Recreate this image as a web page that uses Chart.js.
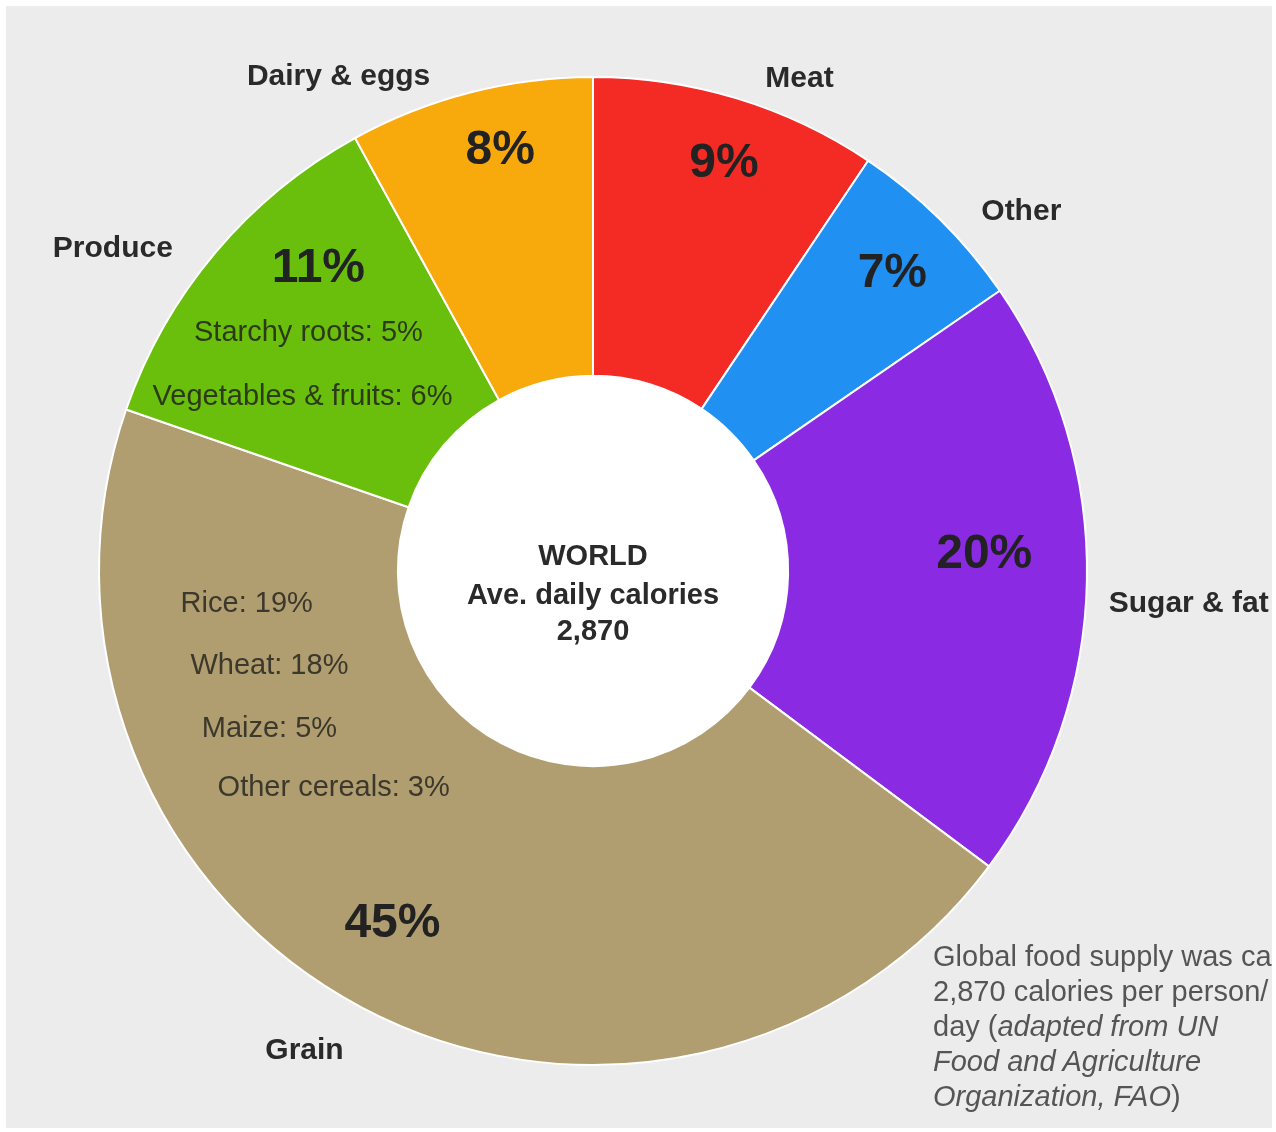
<!DOCTYPE html>
<html>
<head>
<meta charset="utf-8">
<script src="https://cdn.jsdelivr.net/npm/chart.js@4/dist/chart.umd.min.js"></script>
<style>
    body { margin: 0; background: #ffffff; font-family: "Liberation Sans", Arial, sans-serif; }
    #panel { position: absolute; left: 6px; top: 6px; width: 1266px; height: 1122px; background: #ececec; }
    #note { position: absolute; left: 933px; top: 939px; font-size: 29px; line-height: 35px; color: #555555; white-space: nowrap; }
</style>
</head>
<body>
<div id="panel"><canvas id="donut" width="1266" height="1122"></canvas></div>
<div id="note">Global food supply was ca<br>2,870 calories per person/<br>day (<i>adapted from UN<br>Food and Agriculture<br>Organization, FAO</i>)</div>
<script>
const categories = ['Meat', 'Other', 'Sugar & fat', 'Grain', 'Produce', 'Dairy & eggs'];
// slice sizes as drawn (measured from the slice angles)
const shares = [9.4, 6.0, 19.8, 45.1, 11.7, 8.0];
// percentages as printed on the slices
const pctLabels = ['9%', '7%', '20%', '45%', '11%', '8%'];
const sliceColors = ['#f42b24', '#2091f2', '#8a2be3', '#b09e70', '#69bf0c', '#f8aa0c'];

const produceParts = ['Starchy roots: 5%', 'Vegetables & fruits: 6%'];
const grainParts = ['Rice: 19%', 'Wheat: 18%', 'Maize: 5%', 'Other cereals: 3%'];
const centerLines = ['WORLD', 'Ave. daily calories', '2,870'];

// text placement, in units of the outer radius from the centre
const pctPos = [[0.265, -0.824], [0.606, -0.602], [0.792, -0.032], [-0.406, 0.715], [-0.556, -0.612], [-0.188, -0.851]];
const namePos = [[0.418, -0.996], [0.867, -0.727], [1.206, 0.067], [-0.584, 0.972], [-0.972, -0.653], [-0.515, -1.0]];
const producePos = [[-0.576, -0.481], [-0.588, -0.352]];
const grainPos = [[-0.701, 0.067], [-0.655, 0.192], [-0.655, 0.319], [-0.525, 0.440]];
const centerPos = [-0.028, 0.051, 0.123];

const labelPlugin = {
    id: 'sliceLabels',
    beforeDatasetsDraw(chart) {
        // white disc in the hole
        const arc = chart.getDatasetMeta(0).data[0];
        const ctx = chart.ctx;
        ctx.save();
        ctx.fillStyle = '#ffffff';
        ctx.beginPath();
        ctx.arc(arc.x, arc.y, arc.innerRadius, 0, Math.PI * 2);
        ctx.fill();
        ctx.restore();
    },
    afterDatasetsDraw(chart) {
        const ctx = chart.ctx;
        const arc = chart.getDatasetMeta(0).data[0];
        const cx = arc.x, cy = arc.y, R = arc.outerRadius;

        function put(text, pos, font, color) {
            ctx.font = font;
            ctx.fillStyle = color;
            ctx.fillText(text, cx + pos[0] * R, cy + pos[1] * R);
        }

        ctx.save();
        ctx.textAlign = 'center';
        ctx.textBaseline = 'middle';

        pctLabels.forEach(function(t, i) {
            put(t, pctPos[i], 'bold 48px "Liberation Sans"', '#222222');
            put(categories[i], namePos[i], 'bold 30px "Liberation Sans"', '#2a2a2a');
        });

        produceParts.forEach(function(t, i) {
            put(t, producePos[i], '29px "Liberation Sans"', 'rgba(35,40,25,0.88)');
        });
        grainParts.forEach(function(t, i) {
            put(t, grainPos[i], '29px "Liberation Sans"', 'rgba(40,38,32,0.85)');
        });
        centerLines.forEach(function(t, i) {
            put(t, [0, centerPos[i]], 'bold 29px "Liberation Sans"', '#2a2a2a');
        });

        ctx.restore();
    }
};

const ctx = document.querySelector('#donut').getContext('2d');

new Chart(ctx, {
    type: 'doughnut',
    data: {
        labels: categories,
        datasets: [
            {
                data: shares,
                backgroundColor: sliceColors,
                borderColor: '#ffffff',
                borderWidth: 2,
                hoverOffset: 0
            }
        ]
    },
    options: {
        responsive: false,
        animation: false,
        cutout: '39.5%',
        layout: {
            padding: { left: 92, right: 184, top: 70, bottom: 62 }
        },
        plugins: {
            legend: { display: false },
            tooltip: { enabled: false }
        }
    },
    plugins: [labelPlugin]
});
</script>
</body>
</html>
